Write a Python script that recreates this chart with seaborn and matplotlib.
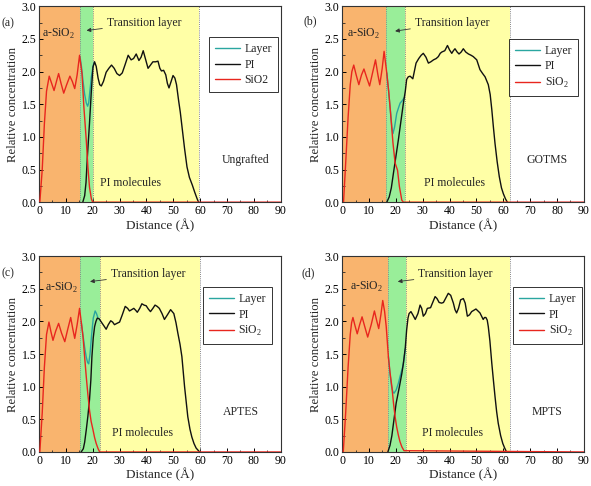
import matplotlib
matplotlib.use("Agg")
import matplotlib.pyplot as plt
import seaborn as sns
import pandas as pd
from matplotlib.ticker import MultipleLocator

sns.set_theme(style="white")
plt.rcParams['font.family'] = ['Liberation Serif', 'DejaVu Serif']
plt.rcParams['mathtext.fontset'] = 'custom'
plt.rcParams['mathtext.rm'] = 'Liberation Serif'

# ---------------- data ----------------
panel_tags = ["(a)", "(b)", "(c)", "(d)"]
case_names = ["Ungrafted", "GOTMS", "APTES", "MPTS"]
sio2_labels = ["SiO2", "SiO$_2$", "SiO$_2$", "SiO$_2$"]

# region boundaries: [end of a-SiO2, end of transition layer, end of PI molecules]
a_bounds = [15.3, 20.0, 59.5]
b_bounds = [16.4, 23.3, 62.4]
c_bounds = [15.2, 22.8, 59.8]
d_bounds = [17.1, 23.9, 62.3]

# (a) Ungrafted
a_sio2_x = [0.3, 1.2, 2.0, 2.8, 3.8, 4.7, 5.6, 6.5, 7.3, 8.2, 9.2, 10.3, 11.5, 12.4, 13.3, 14.2, 15.1,
            16.0, 16.7, 17.6, 18.2, 18.8, 19.5, 20.0, 90]
a_sio2_y = [0.0, 0.5, 1.2, 1.7, 1.93, 1.82, 1.71, 1.85, 1.97, 1.82, 1.67, 1.80, 1.93, 1.85, 1.74, 1.95, 2.25,
            1.97, 1.46, 0.95, 0.54, 0.23, 0.05, 0.0, 0.0]
a_layer_x = [15.3, 15.8, 16.4, 17.0, 17.6, 18.1, 18.5, 19.0, 19.5, 20.1, 20.6]
a_layer_y = [2.22, 2.08, 1.85, 1.65, 1.52, 1.47, 1.52, 1.72, 1.92, 2.08, 2.15]
a_pi_x = [16.3, 17.0, 17.5, 18.0, 18.8, 19.5, 20.1, 20.7, 21.3, 22.0, 22.6, 23.2, 24.0, 25.0, 26.0, 27.0,
          28.0, 29.0, 30.0, 31.0, 32.0, 33.2, 34.3, 35.2, 36.2, 37.2, 38.0, 38.8, 39.6, 40.6, 41.5, 42.4,
          43.4, 44.3, 45.0, 45.6, 46.4, 47.2, 47.8, 48.4, 49.2, 49.9, 50.6, 51.2, 52.0, 52.6, 53.4, 54.2,
          55.1, 56.0, 57.1, 58.0, 58.8, 59.4]
a_pi_y = [0.0, 0.1, 0.3, 0.69, 1.21, 1.71, 2.07, 2.15, 2.08, 1.9, 1.8, 1.78, 1.85, 1.99, 2.05, 2.1,
          2.05, 1.97, 1.94, 1.98, 2.1, 2.25, 2.18, 2.2, 2.27, 2.17, 2.22, 2.32, 2.2, 2.05, 2.1, 2.15,
          2.15, 2.16, 2.05, 2.01, 2.02, 1.95, 1.82, 1.75, 1.85, 1.94, 1.9, 1.8, 1.55, 1.38, 1.1, 0.82,
          0.54, 0.38, 0.26, 0.15, 0.06, 0.0]

# (b) GOTMS
b_sio2_x = [0.5, 1.3, 2.2, 3.0, 3.6, 4.3, 5.2, 6.2, 7.2, 8.1, 9.2, 10.2, 11.3, 12.4, 13.3, 14.0, 14.9,
            15.6, 16.6, 17.3, 17.9, 18.9, 19.7, 20.6, 21.3, 22.2, 22.8, 90]
b_sio2_y = [0.0, 0.6, 1.3, 1.8, 2.0, 2.10, 1.95, 1.80, 1.95, 2.04, 1.90, 1.78, 1.98, 2.18, 1.95, 1.80, 2.05,
            2.31, 1.98, 1.7, 1.42, 0.91, 0.6, 0.49, 0.24, 0.03, 0.0, 0.0]
b_layer_x = [16.6, 17.3, 17.9, 18.5, 18.9, 19.5, 20.3, 21.0, 21.6, 22.3, 23.1]
b_layer_y = [1.98, 1.7, 1.42, 1.15, 1.05, 1.15, 1.36, 1.45, 1.52, 1.55, 1.6]
b_pi_x = [16.6, 17.5, 18.3, 19.1, 20.0, 20.9, 21.8, 22.8, 23.5, 24.0, 24.6, 25.3, 26.3, 27.5, 28.5, 29.4,
          30.2, 31.2, 32.1, 33.0, 34.0, 35.0, 35.8, 36.5, 37.1, 38.2, 39.2, 40.0, 40.8, 41.4, 42.0, 42.8,
          43.5, 44.3, 45.1, 46.0, 47.0, 48.0, 48.8, 50.1, 51.3, 52.3, 53.2, 54.4, 55.1, 55.7, 56.3, 56.9,
          57.7, 58.5, 59.3, 60.0, 60.8, 61.5]
b_pi_y = [0.0, 0.08, 0.22, 0.45, 0.7, 0.95, 1.22, 1.52, 1.7, 1.88, 1.92, 1.93, 1.89, 2.13, 2.2, 2.25,
          2.28, 2.22, 2.13, 2.15, 2.18, 2.2, 2.23, 2.28, 2.3, 2.32, 2.4, 2.33, 2.28, 2.32, 2.35, 2.3,
          2.27, 2.3, 2.35, 2.3, 2.27, 2.25, 2.23, 2.18, 2.03, 1.97, 1.92, 1.8, 1.65, 1.42, 1.15, 0.9,
          0.62, 0.39, 0.22, 0.13, 0.05, 0.0]

# (c) APTES
c_sio2_x = [0.3, 1.2, 2.0, 2.8, 3.7, 4.4, 5.2, 6.2, 7.3, 8.4, 9.6, 10.7, 11.8, 12.6, 13.3, 14.2, 15.1,
            15.7, 16.4, 17.0, 17.6, 18.2, 18.8, 19.4, 20.1, 20.7, 21.3, 22.0, 22.6, 90]
c_sio2_y = [0.0, 0.6, 1.3, 1.8, 1.99, 1.85, 1.71, 1.85, 1.97, 1.82, 1.69, 1.88, 2.06, 1.88, 1.74, 1.95, 2.2,
            2.0, 1.76, 1.45, 1.15, 0.88, 0.64, 0.47, 0.34, 0.22, 0.13, 0.05, 0.0, 0.0]
c_layer_x = [15.7, 16.4, 17.0, 17.6, 18.1, 18.5, 19.0, 19.6, 20.2, 20.9, 21.4, 21.9]
c_layer_y = [2.0, 1.78, 1.6, 1.45, 1.37, 1.35, 1.5, 1.8, 2.05, 2.16, 2.12, 2.06]
c_pi_x = [15.7, 16.5, 17.0, 17.6, 18.2, 18.8, 19.3, 19.7, 20.2, 20.7, 21.2, 21.7, 22.4, 23.2, 24.2, 25.0,
          25.8, 26.7, 27.4, 28.1, 29.0, 30.0, 31.0, 32.1, 33.0, 33.7, 34.5, 35.3, 36.0, 36.6, 37.5, 38.3,
          39.1, 39.9, 40.7, 41.5, 42.4, 43.2, 44.0, 44.8, 45.8, 46.7, 47.8, 49.0, 50.2, 51.0, 51.7, 52.5,
          53.2, 54.2, 55.4, 56.2, 56.9, 57.7, 58.5, 59.8]
c_pi_y = [0.0, 0.05, 0.15, 0.34, 0.55, 0.8, 1.1, 1.46, 1.75, 1.92, 2.0, 2.05, 2.04, 1.99, 1.93, 1.88,
          1.95, 2.01, 1.99, 1.95, 1.97, 1.99, 2.1, 2.23, 2.2, 2.16, 2.18, 2.2, 2.17, 2.14, 2.2, 2.27,
          2.25, 2.24, 2.19, 2.15, 2.2, 2.25, 2.23, 2.2, 2.12, 2.03, 2.1, 2.18, 2.12, 1.98, 1.82, 1.65,
          1.46, 1.0, 0.54, 0.35, 0.23, 0.13, 0.06, 0.0]

# (d) MPTS
d_sio2_x = [0.4, 1.3, 2.2, 3.0, 3.5, 4.0, 4.8, 5.6, 6.5, 7.4, 8.4, 9.5, 10.8, 12.0, 12.8, 13.6, 14.4, 15.1,
            15.8, 16.4, 17.2, 17.8, 18.5, 19.1, 19.7, 20.3, 20.9, 21.5, 22.2, 23.0, 90]
d_sio2_y = [0.0, 0.6, 1.3, 1.8, 1.98, 2.06, 1.93, 1.81, 1.95, 2.07, 1.92, 1.76, 1.95, 2.16, 2.02, 1.89, 2.1, 2.32,
            2.15, 1.92, 1.46, 1.22, 1.0, 0.75, 0.54, 0.38, 0.26, 0.16, 0.08, 0.02, 0.0]
d_layer_x = [17.2, 17.8, 18.4, 18.9, 19.3, 20.1, 20.9, 21.7, 22.5, 23.0, 23.5]
d_layer_y = [1.46, 1.2, 1.0, 0.92, 0.9, 0.95, 1.05, 1.18, 1.3, 1.42, 1.58]
d_pi_x = [17.0, 17.8, 18.5, 19.1, 20.1, 21.3, 22.2, 22.8, 23.5, 24.0, 24.5, 24.9, 25.6, 26.3, 27.2, 28.2,
          29.0, 29.6, 30.2, 31.0, 31.7, 32.9, 33.8, 34.6, 35.3, 36.1, 37.0, 37.7, 38.6, 39.5, 40.4, 41.4,
          42.0, 42.6, 43.3, 44.1, 45.1, 45.8, 46.6, 47.4, 48.2, 49.8, 51.3, 52.5, 53.0, 53.5, 54.0, 54.4,
          55.0, 55.7, 56.3, 56.9, 57.5, 58.1, 59.0, 59.8, 60.5, 61.2]
d_pi_y = [0.0, 0.1, 0.25, 0.44, 0.75, 1.0, 1.2, 1.36, 1.6, 1.87, 2.05, 2.12, 2.15, 2.1, 2.03, 2.12,
          2.25, 2.2, 2.08, 2.12, 2.2, 2.21, 2.3, 2.38, 2.35, 2.29, 2.28, 2.29, 2.36, 2.43, 2.4, 2.28,
          2.18, 2.13, 2.2, 2.33, 2.35, 2.28, 2.08, 2.1, 2.15, 2.19, 2.13, 2.03, 2.06, 2.06, 2.02, 1.92,
          1.7, 1.36, 1.1, 0.85, 0.62, 0.44, 0.25, 0.13, 0.06, 0.0]

panels = [
    (a_bounds, a_sio2_x, a_sio2_y, a_layer_x, a_layer_y, a_pi_x, a_pi_y),
    (b_bounds, b_sio2_x, b_sio2_y, b_layer_x, b_layer_y, b_pi_x, b_pi_y),
    (c_bounds, c_sio2_x, c_sio2_y, c_layer_x, c_layer_y, c_pi_x, c_pi_y),
    (d_bounds, d_sio2_x, d_sio2_y, d_layer_x, d_layer_y, d_pi_x, d_pi_y),
]

# ---------------- layout / style ----------------
ax_rects = [
    [0.066, 0.584, 0.409, 0.403],
    [0.579, 0.584, 0.409, 0.403],
    [0.066, 0.070, 0.409, 0.403],
    [0.579, 0.070, 0.409, 0.403],
]
legend_anchor = [(0.988, 0.842), (0.976, 0.834), (0.963, 0.842), (0.992, 0.842)]
tag_pos = [(-0.13, 0.912), (-0.132, 0.925), (-0.13, 0.912), (-0.14, 0.912)]
asio2_pos = [(7.3, 2.57), (7.8, 2.57), (8.4, 2.52), (8.9, 2.53)]
trans_text = [(25.3, 2.74), (27.1, 2.75), (26.8, 2.72), (28.4, 2.72)]
arrow_head = [(17.7, 2.63), (19.7, 2.62), (19.0, 2.61), (20.7, 2.61)]
pimol_pos = [(34.2, 0.29), (42.0, 0.30), (38.5, 0.29), (41.1, 0.29)]
case_pos = [(77.0, 0.64), (76.1, 0.65), (75.2, 0.62), (76.1, 0.62)]

C_ORANGE = "#F9B46E"
C_GREEN = "#99EE99"
C_YELLOW = "#FFFFA6"
C_LAYER = "#2AA6A0"
C_PI = "#111111"
C_SIO2 = "#E8261E"

fig = plt.figure(figsize=(5.91, 4.86), dpi=100)

for i, (bounds, sx, sy, lx, ly, px, py) in enumerate(panels):
    ax = fig.add_axes(ax_rects[i])
    ax.set_xlim(0, 90)
    ax.set_ylim(0, 3.0)
    ax.axvspan(0, bounds[0], color=C_ORANGE, lw=0, zorder=0)
    ax.axvspan(bounds[0], bounds[1], color=C_GREEN, lw=0, zorder=0)
    ax.axvspan(bounds[1], bounds[2], color=C_YELLOW, lw=0, zorder=0)
    for b in bounds:
        ax.axvline(b, color="#888888", ls=(0, (1, 1.2)), lw=0.7, zorder=1)

    sns.lineplot(data=pd.DataFrame({"x": lx, "y": ly}), x="x", y="y", ax=ax,
                 color=C_LAYER, lw=1.0, label="Layer", sort=False, estimator=None, zorder=3)
    sns.lineplot(data=pd.DataFrame({"x": px, "y": py}), x="x", y="y", ax=ax,
                 color=C_PI, lw=1.0, label="PI", sort=False, estimator=None, zorder=4)
    sns.lineplot(data=pd.DataFrame({"x": sx, "y": sy}), x="x", y="y", ax=ax,
                 color=C_SIO2, lw=1.0, label=sio2_labels[i], sort=False, estimator=None, zorder=5)

    leg = ax.legend(loc="upper right", bbox_to_anchor=legend_anchor[i], borderaxespad=0,
                    fontsize=8.5, frameon=True, fancybox=False, handlelength=2.1,
                    handletextpad=0.4, labelspacing=0.3, borderpad=0.5)
    leg.get_frame().set_edgecolor("black")
    leg.get_frame().set_linewidth(0.7)

    ax.set_xlabel("Distance (Å)", fontsize=9.5, labelpad=1)
    ax.set_ylabel("Relative concentration", fontsize=9.2, labelpad=2)
    ax.xaxis.set_major_locator(MultipleLocator(10))
    ax.xaxis.set_minor_locator(MultipleLocator(5))
    ax.yaxis.set_major_locator(MultipleLocator(0.5))
    ax.yaxis.set_minor_locator(MultipleLocator(0.25))
    ax.yaxis.set_major_formatter(matplotlib.ticker.FormatStrFormatter("%.1f"))
    ax.tick_params(axis="both", which="major", direction="in", length=3, width=0.7,
                   labelsize=8.5, pad=2, colors="black")
    ax.tick_params(axis="both", which="minor", direction="in", length=1.8, width=0.6)
    ax.tick_params(bottom=True, left=True, top=False, right=False, which="both")
    for s in ax.spines.values():
        s.set_color("#333333")
        s.set_linewidth(0.8)
        s.set_visible(True)

    ax.text(tag_pos[i][0], tag_pos[i][1], panel_tags[i], transform=ax.transAxes,
            fontsize=8.5, ha="center", va="center")
    ax.text(asio2_pos[i][0], asio2_pos[i][1], "a-SiO$_2$", fontsize=8.5, ha="center", va="center", zorder=6)
    ax.text(pimol_pos[i][0], pimol_pos[i][1], "PI molecules", fontsize=8.5, ha="center", va="center", zorder=6)
    ax.text(case_pos[i][0], case_pos[i][1], case_names[i], fontsize=8.5, ha="center", va="center", zorder=6)
    ax.annotate("Transition layer", xy=arrow_head[i], xytext=trans_text[i],
                fontsize=8.5, ha="left", va="center", zorder=6,
                arrowprops=dict(arrowstyle="-|>", color="#333333", lw=0.6,
                                mutation_scale=6, shrinkA=1, shrinkB=0))

fig.savefig("out.png", dpi=100)
